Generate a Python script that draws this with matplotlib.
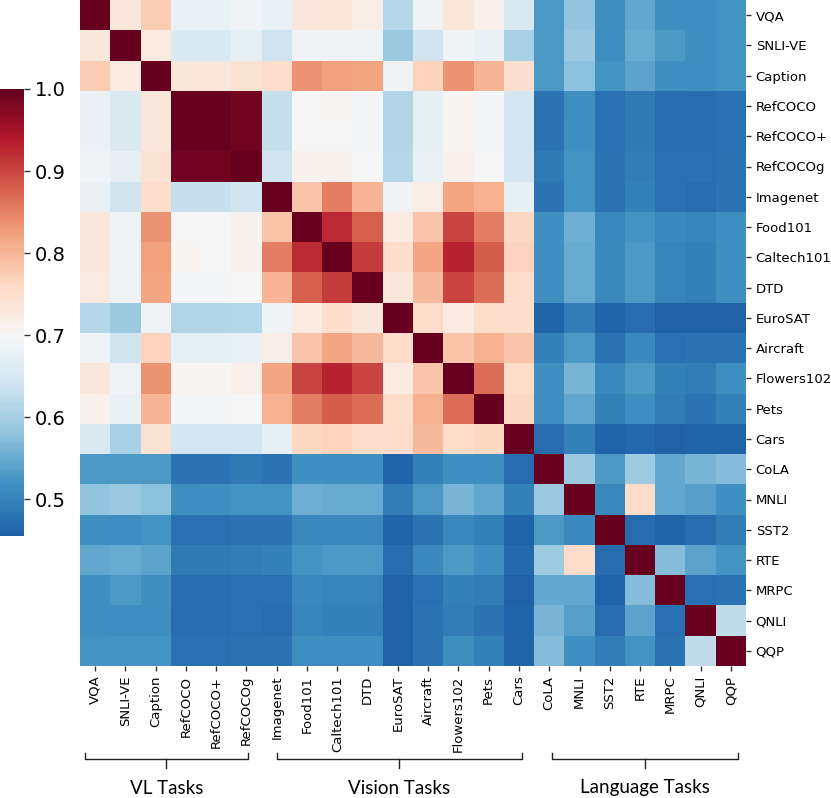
import numpy as np
import matplotlib
matplotlib.use("Agg")
import matplotlib.pyplot as plt
import seaborn as sns

plt.rcParams["font.family"] = ["DejaVu Sans"]

tasks = ["VQA", "SNLI-VE", "Caption", "RefCOCO", "RefCOCO+", "RefCOCOg",
         "Imagenet", "Food101", "Caltech101", "DTD", "EuroSAT", "Aircraft",
         "Flowers102", "Pets", "Cars", "CoLA", "MNLI", "SST2", "RTE", "MRPC",
         "QNLI", "QQP"]

# one row per task
vqa      = [1.00, 0.732, 0.775, 0.679, 0.679, 0.689, 0.679, 0.732, 0.732, 0.721, 0.614, 0.689, 0.732, 0.716, 0.652, 0.529, 0.582, 0.518, 0.545, 0.518, 0.518, 0.523]
snli_ve  = [0.732, 1.00, 0.727, 0.657, 0.657, 0.673, 0.641, 0.689, 0.689, 0.689, 0.588, 0.641, 0.689, 0.679, 0.604, 0.529, 0.588, 0.513, 0.550, 0.529, 0.513, 0.523]
caption  = [0.775, 0.727, 1.00, 0.732, 0.732, 0.743, 0.754, 0.834, 0.823, 0.818, 0.689, 0.770, 0.834, 0.802, 0.748, 0.529, 0.577, 0.523, 0.539, 0.518, 0.513, 0.523]
refcoco  = [0.679, 0.657, 0.732, 1.00, 1.00, 0.989, 0.630, 0.700, 0.705, 0.695, 0.609, 0.673, 0.705, 0.695, 0.646, 0.480, 0.513, 0.475, 0.486, 0.470, 0.470, 0.475]
refcocop = [0.679, 0.657, 0.732, 1.00, 1.00, 0.989, 0.630, 0.700, 0.700, 0.695, 0.609, 0.673, 0.705, 0.695, 0.646, 0.480, 0.518, 0.475, 0.486, 0.470, 0.470, 0.475]
refcocog = [0.689, 0.673, 0.743, 0.989, 0.989, 1.00, 0.641, 0.711, 0.711, 0.700, 0.614, 0.679, 0.716, 0.700, 0.646, 0.486, 0.523, 0.480, 0.491, 0.475, 0.475, 0.480]
imagenet = [0.679, 0.641, 0.754, 0.630, 0.630, 0.641, 1.00, 0.786, 0.855, 0.802, 0.689, 0.721, 0.818, 0.807, 0.673, 0.480, 0.523, 0.480, 0.496, 0.475, 0.470, 0.480]
food101  = [0.732, 0.689, 0.834, 0.700, 0.700, 0.711, 0.786, 1.00, 0.925, 0.877, 0.727, 0.786, 0.904, 0.855, 0.764, 0.518, 0.555, 0.507, 0.523, 0.507, 0.502, 0.513]
caltech  = [0.732, 0.689, 0.823, 0.705, 0.700, 0.711, 0.855, 0.925, 1.00, 0.909, 0.754, 0.818, 0.930, 0.882, 0.770, 0.518, 0.550, 0.507, 0.529, 0.502, 0.496, 0.513]
dtd      = [0.727, 0.689, 0.818, 0.695, 0.695, 0.700, 0.802, 0.877, 0.909, 1.00, 0.732, 0.796, 0.904, 0.866, 0.754, 0.518, 0.550, 0.507, 0.529, 0.502, 0.496, 0.513]
eurosat  = [0.614, 0.588, 0.689, 0.609, 0.609, 0.614, 0.689, 0.727, 0.754, 0.732, 1.00, 0.759, 0.727, 0.759, 0.754, 0.459, 0.491, 0.459, 0.470, 0.455, 0.455, 0.455]
aircraft = [0.689, 0.641, 0.770, 0.673, 0.673, 0.679, 0.721, 0.786, 0.818, 0.796, 0.759, 1.00, 0.786, 0.807, 0.786, 0.496, 0.529, 0.480, 0.507, 0.475, 0.480, 0.480]
flowers  = [0.732, 0.689, 0.834, 0.705, 0.705, 0.716, 0.818, 0.904, 0.930, 0.904, 0.727, 0.786, 1.00, 0.866, 0.759, 0.518, 0.561, 0.507, 0.529, 0.496, 0.491, 0.513]
pets     = [0.716, 0.679, 0.802, 0.695, 0.695, 0.700, 0.807, 0.855, 0.882, 0.866, 0.759, 0.807, 0.866, 1.00, 0.764, 0.513, 0.545, 0.496, 0.518, 0.491, 0.480, 0.496]
cars     = [0.652, 0.604, 0.743, 0.646, 0.646, 0.646, 0.673, 0.764, 0.770, 0.754, 0.754, 0.796, 0.759, 0.764, 1.00, 0.470, 0.496, 0.459, 0.464, 0.455, 0.459, 0.459]
cola     = [0.529, 0.529, 0.529, 0.480, 0.480, 0.486, 0.480, 0.518, 0.518, 0.518, 0.459, 0.496, 0.518, 0.513, 0.470, 1.00, 0.588, 0.529, 0.593, 0.545, 0.561, 0.571]
mnli     = [0.582, 0.588, 0.577, 0.513, 0.518, 0.523, 0.523, 0.555, 0.550, 0.550, 0.491, 0.529, 0.561, 0.545, 0.496, 0.588, 1.00, 0.507, 0.759, 0.545, 0.534, 0.518]
sst2     = [0.518, 0.513, 0.523, 0.475, 0.475, 0.480, 0.480, 0.507, 0.507, 0.507, 0.459, 0.480, 0.507, 0.496, 0.459, 0.529, 0.507, 1.00, 0.470, 0.459, 0.470, 0.491]
rte      = [0.545, 0.550, 0.539, 0.486, 0.486, 0.491, 0.496, 0.523, 0.529, 0.529, 0.470, 0.507, 0.529, 0.518, 0.464, 0.593, 0.759, 0.470, 1.00, 0.571, 0.539, 0.523]
mrpc     = [0.518, 0.529, 0.518, 0.470, 0.470, 0.475, 0.475, 0.507, 0.502, 0.502, 0.455, 0.475, 0.496, 0.491, 0.455, 0.545, 0.545, 0.459, 0.571, 1.00, 0.475, 0.480]
qnli     = [0.518, 0.513, 0.513, 0.470, 0.470, 0.475, 0.470, 0.502, 0.496, 0.496, 0.455, 0.480, 0.491, 0.480, 0.459, 0.561, 0.534, 0.470, 0.539, 0.475, 1.00, 0.625]
qqp      = [0.523, 0.523, 0.523, 0.475, 0.475, 0.480, 0.480, 0.513, 0.513, 0.513, 0.455, 0.480, 0.513, 0.496, 0.459, 0.571, 0.518, 0.491, 0.523, 0.480, 0.625, 1.00]

groups = ["VL Tasks", "Vision Tasks", "Language Tasks"]
group_spans = [(0.15, 5.55), (6.5, 14.6), (15.6, 21.75)]

corr = np.array([vqa, snli_ve, caption, refcoco, refcocop, refcocog, imagenet,
                 food101, caltech, dtd, eurosat, aircraft, flowers, pets, cars,
                 cola, mnli, sst2, rte, mrpc, qnli, qqp])

fig = plt.figure(figsize=(8.31, 7.98), dpi=100)
ax = fig.add_axes([80 / 831, 1 - 666 / 798, 666 / 831, 666 / 798])
cax = fig.add_axes([0.0, 1 - 536 / 798, 24 / 831, 447 / 798])

sns.heatmap(corr, ax=ax, cbar_ax=cax, cmap="RdBu_r", vmin=0.455, vmax=1.0,
            center=0.7, xticklabels=tasks, yticklabels=tasks)

ax.yaxis.tick_right()
ax.set_yticklabels(tasks, rotation=0, fontsize=9.5)
ax.set_xticklabels(tasks, rotation=90, fontsize=9.5)
ax.tick_params(length=3.5, width=1, color="#333333")

cax.set_yticks([0.5, 0.6, 0.7, 0.8, 0.9, 1.0])
cax.tick_params(labelsize=14, length=4, width=1, color="#333333")

# group brackets under the x labels
tr = matplotlib.transforms.blended_transform_factory(ax.transData, fig.transFigure)
y_top, y_mid, y_low = 1 - 753 / 798, 1 - 759 / 798, 1 - 768 / 798
for name, (x0, x1) in zip(groups, group_spans):
    xc = (x0 + x1) / 2
    ax.plot([x0, x0, x1, x1], [y_top, y_mid, y_mid, y_top], color="#222222",
            lw=1, transform=tr, clip_on=False)
    ax.plot([xc, xc], [y_mid, y_low], color="#222222", lw=1,
            transform=tr, clip_on=False)
    ax.text(xc, 1 - 788 / 798, name, transform=tr, ha="center", va="center",
            fontsize=13.5, family="Lato")

fig.savefig("out.png", dpi=100)
